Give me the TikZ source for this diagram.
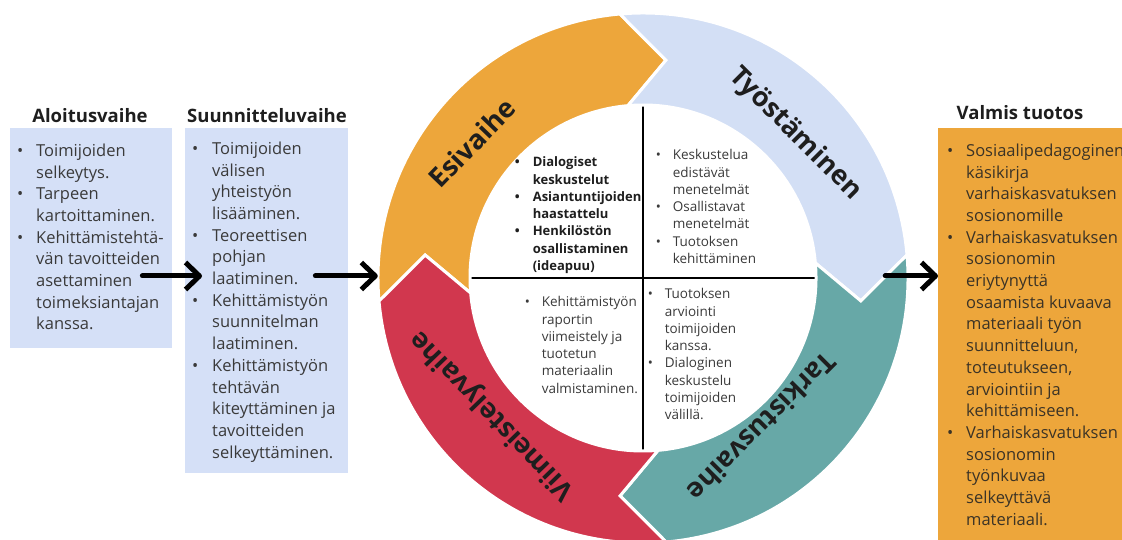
\documentclass[tikz,border=0pt]{standalone}
\usepackage{fontspec}
\setmainfont{Open Sans}
\usetikzlibrary{arrows.meta,calc}

\definecolor{oranssi}{HTML}{EDA63B}
\definecolor{vaaleansininen}{HTML}{D5E0F7}
\definecolor{sininenkaari}{HTML}{D3DFF5}
\definecolor{turkoosi}{HTML}{67A8A7}
\definecolor{punainen}{HTML}{D1374E}
\definecolor{otsikkoteksti}{HTML}{1E1E1E}
\definecolor{leipateksti}{HTML}{3A3A3A}
\definecolor{ruskeateksti}{HTML}{3B3326}

% one band of the cycle: colour, tail angle, head angle
\newcommand{\kaari}[3]{%
  \fill[#1, draw=white, line width=3pt, line join=miter]
    (#2:265) arc[start angle=#2, end angle=#3, radius=265]
    -- (#3-11:219) -- (#3:173)
    arc[start angle=#3, end angle=#2, radius=173]
    -- (#2-11:219) -- cycle;}

\begin{document}
\begin{tikzpicture}
  [x=1pt, y=1pt,
   laatikko/.style={rectangle, anchor=north west, inner sep=0pt},
   otsikko/.style={anchor=base, text=otsikkoteksti, font=\bfseries\fontsize{18.5}{22}\selectfont},
   lista/.style={anchor=north west, inner sep=0pt, align=left, text=leipateksti, font=\fontsize{16.5}{21.7}\selectfont},
   pieni/.style={anchor=north west, inner sep=0pt, align=left, text=leipateksti, font=\fontsize{13.5}{17.3}\selectfont},
   vaihe/.style={text=otsikkoteksti, font=\bfseries\fontsize{27}{30}\selectfont},
   nuoli/.style={line width=5pt, line cap=round, -{Straight Barb[length=14pt,width=27pt,line join=round]}}]
  \path[use as bounding box, clip] (0,0) rectangle (1122,539);

  % boxes on both sides
  \node[laatikko, fill=vaaleansininen, minimum width=162pt, minimum height=220pt] (aloitus) at (10,411) {};
  \node[laatikko, fill=vaaleansininen, minimum width=163pt, minimum height=345pt] (suunnittelu) at (185,411) {};
  \node[laatikko, fill=oranssi, minimum width=200pt, minimum height=420pt] (valmis) at (938,411) {};

  \node[otsikko] (aloitusots) at (90,416) {Aloitusvaihe};
  \node[otsikko] (suunnitteluots) at (267,416) {Suunnitteluvaihe};
  \node[otsikko] (valmisots) at (1020,419) {Valmis tuotos};

  \node[lista] (aloitusteksti) at (17,398) {%
    \begin{tabular}{@{}p{19pt}@{}l@{}}
    \textbullet & Toimijoiden\\
     & selkeytys.\\
    \textbullet & Tarpeen\\
     & kartoittaminen.\\
    \textbullet & Kehittämistehtä-\\
     & vän tavoitteiden\\
     & asettaminen\\
     & toimeksiantajan\\
     & kanssa.
    \end{tabular}};
  \node[lista] (suunnitteluteksti) at (192,400) {%
    \begin{tabular}{@{}p{20pt}@{}l@{}}
    \textbullet & Toimijoiden\\
     & välisen\\
     & yhteistyön\\
     & lisääminen.\\
    \textbullet & Teoreettisen\\
     & pohjan\\
     & laatiminen.\\
    \textbullet & Kehittämistyön\\
     & suunnitelman\\
     & laatiminen.\\
    \textbullet & Kehittämistyön\\
     & tehtävän\\
     & kiteyttäminen ja\\
     & tavoitteiden\\
     & selkeyttäminen.
    \end{tabular}};
  \node[lista, text=ruskeateksti] (valmisteksti) at (947,398) {%
    \begin{tabular}{@{}p{19pt}@{}l@{}}
    \textbullet & Sosiaalipedagoginen\\
     & käsikirja\\
     & varhaiskasvatuksen\\
     & sosionomille\\
    \textbullet & Varhaiskasvatuksen\\
     & sosionomin\\
     & eriytynyttä\\
     & osaamista kuvaava\\
     & materiaali työn\\
     & suunnitteluun,\\
     & toteutukseen,\\
     & arviointiin ja\\
     & kehittämiseen.\\
    \textbullet & Varhaiskasvatuksen\\
     & sosionomin\\
     & työnkuvaa\\
     & selkeyttävä\\
     & materiaali.
    \end{tabular}};

  % the cycle
  \node[circle, minimum size=530pt, inner sep=0pt] (ympyra) at (643,261) {};
  \node[circle, minimum size=346pt, inner sep=0pt] (sisa) at (ympyra.center) {};
  \draw[line width=2pt] (sisa.west) -- (sisa.east) (sisa.north) -- (sisa.south);

  \begin{scope}[shift={(ympyra.center)}]
    \kaari{oranssi}{185}{95}
    \kaari{sininenkaari}{95}{5}
    \kaari{turkoosi}{5}{-85}
    \kaari{punainen}{275}{185}
  \end{scope}

  \node[vaihe, rotate=46] (esi) at (472,396) {Esivaihe};
  \node[vaihe, rotate=-45] (tyo) at (795,405) {Työstäminen};
  \node[vaihe, rotate=-135] (tarkistus) at (762,112) {Tarkistusvaihe};
  \node[vaihe, rotate=134] (viimeistely) at (493,124) {Viimeistelyvaihe};

  % quarters
  \node[pieni, text=otsikkoteksti, font=\bfseries\fontsize{13}{17.3}\selectfont] (esiteksti) at (514.6,384.6) {%
    \begin{tabular}{@{}p{18pt}@{}l@{}}
    \textbullet & Dialogiset\\
     & keskustelut\\
    \textbullet & Asiantuntijoiden\\
     & haastattelu\\
    \textbullet & Henkilöstön\\
     & osallistaminen\\
     & (ideapuu)
    \end{tabular}};
  \node[pieni] (tyoteksti) at (655.6,391.6) {%
    \begin{tabular}{@{}p{17pt}@{}l@{}}
    \textbullet & Keskustelua\\
     & edistävät\\
     & menetelmät\\
    \textbullet & Osallistavat\\
     & menetelmät\\
    \textbullet & Tuotoksen\\
     & kehittäminen
    \end{tabular}};
  \node[pieni] (viimeistelyteksti) at (524.6,244.6) {%
    \begin{tabular}{@{}p{17pt}@{}l@{}}
    \textbullet & Kehittämistyön\\
     & raportin\\
     & viimeistely ja\\
     & tuotetun\\
     & materiaalin\\
     & valmistaminen.
    \end{tabular}};
  \node[pieni] (tarkistusteksti) at (647.6,252.6) {%
    \begin{tabular}{@{}p{17pt}@{}l@{}}
    \textbullet & Tuotoksen\\
     & arviointi\\
     & toimijoiden\\
     & kanssa.\\
    \textbullet & Dialoginen\\
     & keskustelu\\
     & toimijoiden\\
     & välillä.
    \end{tabular}};

  % arrows between the phases
  \draw[nuoli] ($(aloitus.east |- ympyra.center)+(-30,2)$) -- ($(suunnittelu.west |- ympyra.center)+(17,2)$);
  \draw[nuoli] ($(suunnittelu.east |- ympyra.center)+(-33,2)$) -- ($(ympyra.west)+(0,2)$);
  \draw[nuoli] ($(ympyra.east)+(-23,2)$) -- ($(valmis.west |- ympyra.center)+(0,2)$);
\end{tikzpicture}
\end{document}
